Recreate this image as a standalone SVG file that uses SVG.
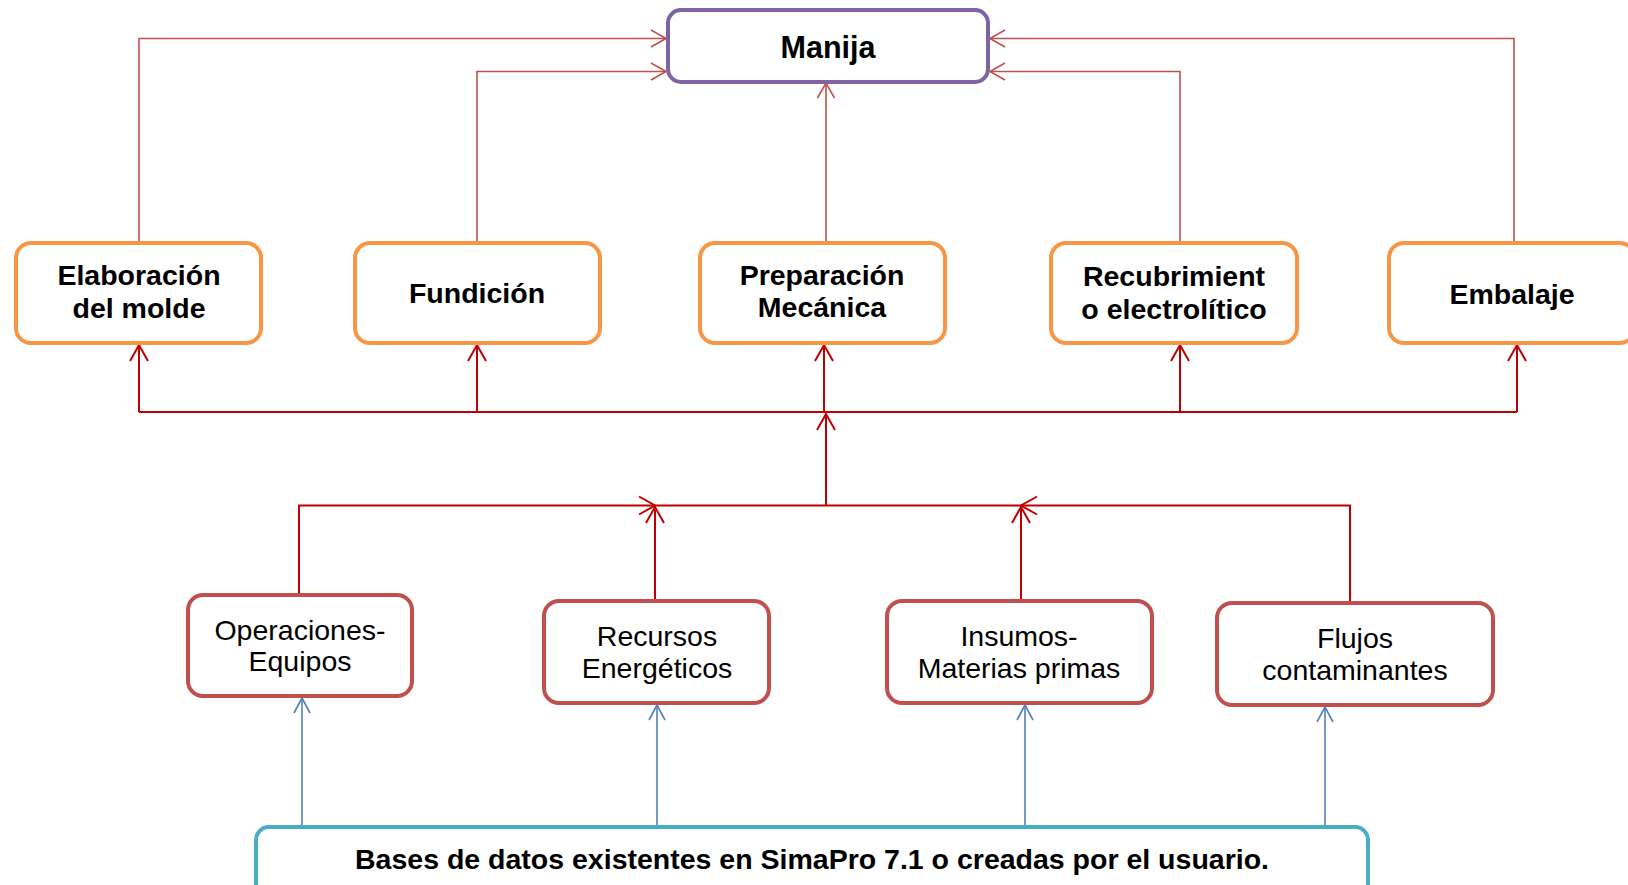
<svg xmlns="http://www.w3.org/2000/svg" width="1628" height="885" viewBox="0 0 1628 885">
  <style>
    .box { fill: #FFFFFF; stroke-width: 4; }
    .top { stroke: #8064A2; }
    .stage { stroke: #F79646; }
    .input { stroke: #C0504D; }
    .db { stroke: #4BACC6; }
    .bold { font-family: "Liberation Sans", Arial, sans-serif; font-weight: bold; fill: #000000; text-anchor: middle; }
    .reg { font-family: "Liberation Sans", Arial, sans-serif; fill: #000000; text-anchor: middle; }
    .thin { fill: none; stroke: #C0504D; stroke-width: 1.6; }
    .bus { fill: none; stroke: #C00000; stroke-width: 2; }
    .blue { fill: none; stroke: #4F81BD; stroke-width: 1.6; }
  </style>
  <defs>
    <marker id="headThin" markerUnits="userSpaceOnUse" markerWidth="22" markerHeight="22" viewBox="-18 -11 20 22" refX="0" refY="0" orient="auto">
      <path d="M-15,-8.5 L0,0 L-15,8.5" fill="none" stroke="#C0504D" stroke-width="1.6"/>
    </marker>
    <marker id="headBus" markerUnits="userSpaceOnUse" markerWidth="22" markerHeight="22" viewBox="-18 -11 20 22" refX="0" refY="0" orient="auto">
      <path d="M-16,-9 L0,0 L-16,9" fill="none" stroke="#C00000" stroke-width="2"/>
    </marker>
    <marker id="headBlue" markerUnits="userSpaceOnUse" markerWidth="22" markerHeight="22" viewBox="-18 -11 20 22" refX="0" refY="0" orient="auto">
      <path d="M-15,-8 L0,0 L-15,8" fill="none" stroke="#4F81BD" stroke-width="1.6"/>
    </marker>
  </defs>

  <rect width="1628" height="885" fill="#FFFFFF"/>

  <!-- connectors -->
  <g id="connectors">
    <!-- stages to Manija -->
    <path class="thin" d="M139,243 V38.5 H666" marker-end="url(#headThin)"/>
    <path class="thin" d="M477,243 V71.5 H666" marker-end="url(#headThin)"/>
    <path class="thin" d="M826,243 V83" marker-end="url(#headThin)"/>
    <path class="thin" d="M1180,243 V71.5 H990" marker-end="url(#headThin)"/>
    <path class="thin" d="M1514,243 V38.5 H990" marker-end="url(#headThin)"/>

    <!-- distribution bus to stages -->
    <path class="bus" d="M139,412 H1517"/>
    <path class="bus" d="M139,412 V345" marker-end="url(#headBus)"/>
    <path class="bus" d="M477,412 V345" marker-end="url(#headBus)"/>
    <path class="bus" d="M824,412 V345" marker-end="url(#headBus)"/>
    <path class="bus" d="M1180,412 V345" marker-end="url(#headBus)"/>
    <path class="bus" d="M1517,412 V345" marker-end="url(#headBus)"/>

    <!-- collected inputs up to the bus -->
    <path class="bus" d="M826,505.5 V414" marker-end="url(#headBus)"/>
    <path class="bus" d="M655,505.5 H1021"/>
    <path class="bus" d="M299,595 V505.5 H655" marker-end="url(#headBus)"/>
    <path class="bus" d="M655,601 V507" marker-end="url(#headBus)"/>
    <path class="bus" d="M1021,601 V507" marker-end="url(#headBus)"/>
    <path class="bus" d="M1350,603 V505.5 H1021" marker-end="url(#headBus)"/>

    <!-- databases to inputs -->
    <path class="blue" d="M302,827 V698" marker-end="url(#headBlue)"/>
    <path class="blue" d="M657,827 V705" marker-end="url(#headBlue)"/>
    <path class="blue" d="M1025,827 V705" marker-end="url(#headBlue)"/>
    <path class="blue" d="M1325,830 V707" marker-end="url(#headBlue)"/>
  </g>

  <g id="manija">
    <rect class="box top" x="668" y="10" width="320" height="72" rx="13"/>
    <text class="bold" x="828" y="58" font-size="30.5">Manija</text>
  </g>

  <g id="elaboracion">
    <rect class="box stage" x="16" y="243" width="245" height="100" rx="15"/>
    <text class="bold" x="139" y="285" font-size="28.5">Elaboración</text>
    <text class="bold" x="139" y="318" font-size="28.5">del molde</text>
  </g>

  <g id="fundicion">
    <rect class="box stage" x="355" y="243" width="245" height="100" rx="15"/>
    <text class="bold" x="477" y="303" font-size="28.5">Fundición</text>
  </g>

  <g id="preparacion">
    <rect class="box stage" x="700" y="243" width="245" height="100" rx="15"/>
    <text class="bold" x="822" y="285" font-size="28.5">Preparación</text>
    <text class="bold" x="822" y="317" font-size="28.5">Mecánica</text>
  </g>

  <g id="recubrimiento">
    <rect class="box stage" x="1051" y="243" width="246" height="100" rx="15"/>
    <text class="bold" x="1174" y="286" font-size="28.5">Recubrimient</text>
    <text class="bold" x="1174" y="319" font-size="28.5">o electrolítico</text>
  </g>

  <g id="embalaje">
    <rect class="box stage" x="1389" y="243" width="246" height="100" rx="15"/>
    <text class="bold" x="1512" y="304" font-size="28.5">Embalaje</text>
  </g>

  <g id="operaciones">
    <rect class="box input" x="188" y="595" width="224" height="101" rx="15"/>
    <text class="reg" x="300" y="640" font-size="28.5">Operaciones-</text>
    <text class="reg" x="300" y="671" font-size="28.5">Equipos</text>
  </g>

  <g id="recursos">
    <rect class="box input" x="544" y="601" width="225" height="102" rx="15"/>
    <text class="reg" x="657" y="646" font-size="28.5">Recursos</text>
    <text class="reg" x="657" y="678" font-size="28.5">Energéticos</text>
  </g>

  <g id="insumos">
    <rect class="box input" x="887" y="601" width="265" height="102" rx="15"/>
    <text class="reg" x="1019" y="646" font-size="28.5">Insumos-</text>
    <text class="reg" x="1019" y="678" font-size="28.5">Materias primas</text>
  </g>

  <g id="flujos">
    <rect class="box input" x="1217" y="603" width="276" height="102" rx="15"/>
    <text class="reg" x="1355" y="648" font-size="28.5">Flujos</text>
    <text class="reg" x="1355" y="680" font-size="28.5">contaminantes</text>
  </g>

  <g id="bases">
    <rect class="box db" x="256" y="827" width="1112" height="80" rx="13"/>
    <text class="bold" x="812" y="869" font-size="28.5">Bases de datos existentes en SimaPro 7.1 o creadas por el usuario.</text>
  </g>
</svg>
